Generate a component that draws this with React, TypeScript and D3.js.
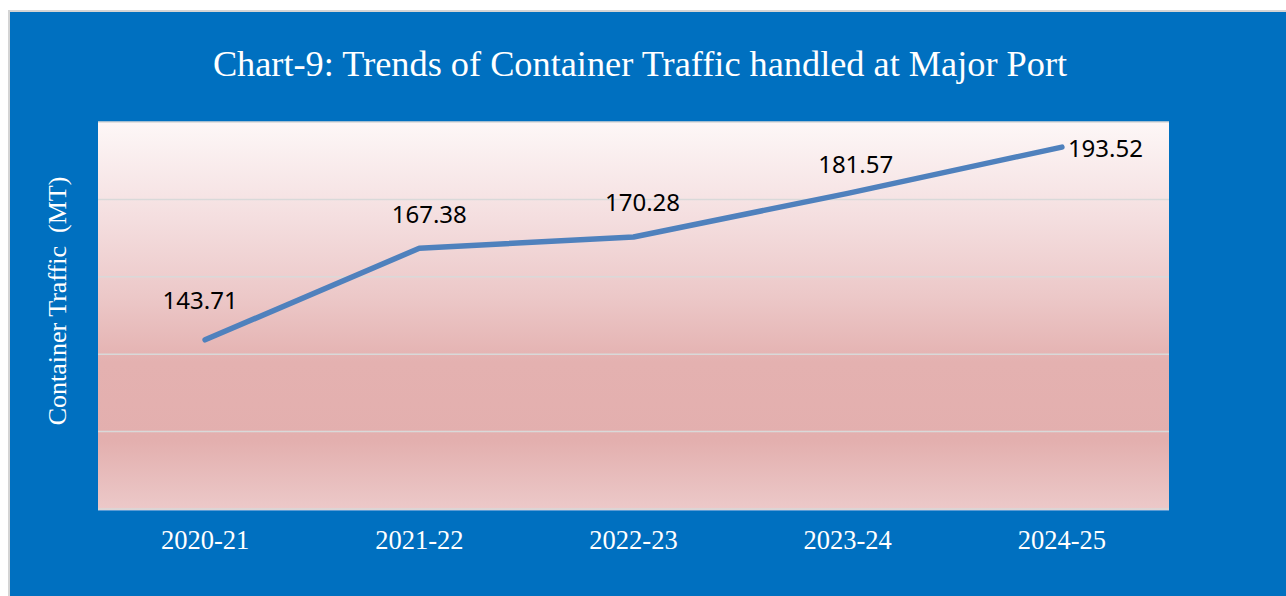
import React from "react";
import * as d3 from "d3";

const categories = ["2020-21", "2021-22", "2022-23", "2023-24", "2024-25"];
const values = [143.71, 167.38, 170.28, 181.57, 193.52];
const yTicks = [100, 120, 140, 160, 180, 200];
const title = "Chart-9: Trends of Container Traffic handled at Major Port";
const yTitle = "Container Traffic  (MT)";

// label layout (offsets from the point, in px)
const labelDx = [-5, 10, 9, 8, 6];
const labelDy = [-31, -25, -26, -20, 10];
const labelAnchor = ["middle", "middle", "middle", "middle", "start"];

const W = 1286;
const H = 596;
const PL = 98, PR = 1169, PT = 122, PB = 509;

export default function App() {
  const x = d3.scaleBand<string>().domain(categories).range([PL, PR]);
  const y = d3.scaleLinear().domain([100, 200]).range([PB, PT]);
  const cx = (c: string) => (x(c) as number) + x.bandwidth() / 2;
  const line = d3
    .line<number>()
    .x((_, i) => cx(categories[i]))
    .y((d) => y(d));

  return (
    <svg
      width={W}
      height={H}
      style={{ position: "absolute", left: 0, top: 0, display: "block" }}
    >
      <defs>
        <linearGradient id="plotGrad" x1="0" y1="0" x2="0" y2="1">
          <stop offset="0%" stopColor="#FDF7F7" />
          <stop offset="25%" stopColor="#F4DEDF" />
          <stop offset="45%" stopColor="#ECC8C8" />
          <stop offset="62%" stopColor="#E4B1B0" />
          <stop offset="82%" stopColor="#E3AFAE" />
          <stop offset="100%" stopColor="#ECC9C9" />
        </linearGradient>
      </defs>
      <rect x={0} y={0} width={W} height={H} fill="#FFFFFF" />
      <rect x={8} y={10} width={W - 8} height={H - 10} fill="#D4D4D4" />
      <rect x={10} y={12} width={W - 10} height={H - 12} fill="#0070C0" />

      <text
        x={640}
        y={76}
        textAnchor="middle"
        fill="#FFFFFF"
        fontFamily="'Liberation Serif', 'Times New Roman', serif"
        fontSize={36.3}
      >
        {title}
      </text>

      <rect x={PL} y={PT} width={PR - PL} height={PB - PT + 1} fill="url(#plotGrad)" />
      {yTicks.map((t) => (
        <line
          key={t}
          x1={PL}
          x2={PR}
          y1={y(t)}
          y2={y(t)}
          stroke="#D9D9D9"
          strokeWidth={1.5}
        />
      ))}
      <line x1={PL} x2={PR} y1={PB + 1.5} y2={PB + 1.5} stroke="#5B9BD5" strokeWidth={1} />

      <path
        d={line(values) || ""}
        fill="none"
        stroke="#4F81BD"
        strokeWidth={5.5}
        strokeLinecap="round"
        strokeLinejoin="round"
      />

      {values.map((v, i) => (
        <text
          key={i}
          x={cx(categories[i]) + labelDx[i]}
          y={y(v) + labelDy[i]}
          textAnchor={labelAnchor[i] as any}
          fill="#000000"
          fontFamily="'Noto Sans', 'Open Sans', sans-serif"
          fontSize={24}
        >
          {v.toFixed(2)}
        </text>
      ))}

      {categories.map((c) => (
        <text
          key={c}
          x={cx(c)}
          y={549}
          textAnchor="middle"
          fill="#FFFFFF"
          fontFamily="'Liberation Serif', 'Times New Roman', serif"
          fontSize={26.5}
        >
          {c}
        </text>
      ))}

      <text
        transform={`translate(66, 301) rotate(-90)`}
        textAnchor="middle"
        fill="#FFFFFF"
        fontFamily="'Liberation Serif', 'Times New Roman', serif"
        fontSize={26}
        style={{ whiteSpace: "pre" }}
      >
        {yTitle}
      </text>
    </svg>
  );
}
